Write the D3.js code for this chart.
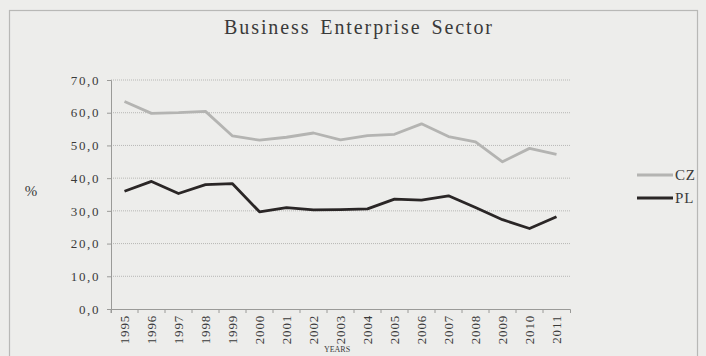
<!DOCTYPE html>
<html>
<head>
<meta charset="utf-8">
<script src="https://cdn.jsdelivr.net/npm/d3@7"></script>
<style>
  body { margin: 0; background: #ededeb; }
  text { font-family: "Liberation Serif", "Times New Roman", serif; fill: #3a3a3a; }
</style>
</head>
<body>
<script>
const width = 706, height = 356;
const years = ["1995","1996","1997","1998","1999","2000","2001","2002","2003","2004","2005","2006","2007","2008","2009","2010","2011"];
const cz = [63.4, 59.8, 60.0, 60.4, 52.9, 51.6, 52.5, 53.8, 51.7, 53.0, 53.4, 56.6, 52.7, 51.1, 45.0, 49.1, 47.3];
const pl = [36.0, 39.0, 35.3, 38.0, 38.3, 29.7, 31.0, 30.3, 30.4, 30.6, 33.6, 33.3, 34.6, 31.0, 27.3, 24.6, 28.2];
const yTicks = [0, 10, 20, 30, 40, 50, 60, 70];

const svg = d3.select("body").append("svg").attr("width", width).attr("height", height);

// outer frame
svg.append("rect").attr("x", 9.5).attr("y", 10.5).attr("width", 688).attr("height", 360)
    .attr("fill", "none").attr("stroke", "#b8b8b6").attr("stroke-width", 1.2);

const margin = {left: 111, right: 136, top: 80, bottom: 47};
const x = d3.scaleBand().domain(years).range([margin.left, width - margin.right]).paddingInner(0).paddingOuter(0);
const y = d3.scaleLinear().domain([0, 70]).range([height - margin.bottom, margin.top]);

// gridlines
svg.append("g").selectAll("line").data(yTicks.slice(1)).enter().append("line")
    .attr("x1", margin.left).attr("x2", width - margin.right)
    .attr("y1", (d)=>y(d)).attr("y2", (d)=>y(d))
    .attr("stroke", "#a9a9a7").attr("stroke-width", 0.8).attr("stroke-dasharray", "1,1");

// y axis
const yAxis = svg.append("g").attr("transform", `translate(${margin.left},0)`)
    .call(d3.axisLeft(y).tickValues(yTicks).tickSize(4).tickFormat((d)=>d3.format(".1f")(d).replace(".", ",")));
yAxis.attr("font-family", null);
yAxis.select(".domain").attr("stroke", "#9a9a98");
yAxis.selectAll(".tick line").attr("stroke", "#9a9a98");
yAxis.selectAll("text").attr("font-size", 13).attr("letter-spacing", 1.6).attr("dx", -4);

// x axis
const xAxis = svg.append("g").attr("transform", `translate(0,${y(0)})`)
    .call(d3.axisBottom(x).tickSize(4));
xAxis.attr("font-family", null);
xAxis.select(".domain").attr("stroke", "#9a9a98");
xAxis.selectAll(".tick line").attr("stroke", "#9a9a98").attr("transform", `translate(${-x.bandwidth()/2},0)`);
xAxis.selectAll("text").attr("font-size", 13).attr("letter-spacing", 0.8).attr("transform", "rotate(-90)")
    .attr("text-anchor", "end").attr("x", -6).attr("y", 0).attr("dy", "0.35em");

// lines
const line = d3.line().x((d, i)=>x(years[i]) + x.bandwidth()/2).y((d)=>y(d));
svg.append("path").datum(cz).attr("d", line).attr("fill", "none")
    .attr("stroke", "#b4b4b2").attr("stroke-width", 2.8).attr("stroke-linejoin", "round");
svg.append("path").datum(pl).attr("d", line).attr("fill", "none")
    .attr("stroke", "#2a2626").attr("stroke-width", 2.8).attr("stroke-linejoin", "round");

// title
svg.append("text").attr("x", 359).attr("y", 34).attr("text-anchor", "middle")
    .attr("font-size", 20).attr("letter-spacing", 1.9).attr("word-spacing", 3)
    .text("Business Enterprise Sector");

// axis titles
svg.append("text").attr("x", 31).attr("y", 196).attr("text-anchor", "middle")
    .attr("font-size", 15).text("%");
svg.append("text").attr("x", 337).attr("y", 352).attr("text-anchor", "middle")
    .attr("font-size", 8).text("YEARS");

// legend
const legend = [{name: "CZ", color: "#b4b4b2", yy: 175}, {name: "PL", color: "#2a2626", yy: 198}];
const lg = svg.append("g").selectAll("g").data(legend).enter().append("g");
lg.append("line").attr("x1", 637).attr("x2", 673).attr("y1", (d)=>d.yy).attr("y2", (d)=>d.yy)
    .attr("stroke", (d)=>d.color).attr("stroke-width", 2.8);
lg.append("text").attr("x", 675).attr("y", (d)=>d.yy).attr("dy", "0.35em")
    .attr("font-size", 15).attr("letter-spacing", 0.8).text((d)=>d.name);
</script>
</body>
</html>
